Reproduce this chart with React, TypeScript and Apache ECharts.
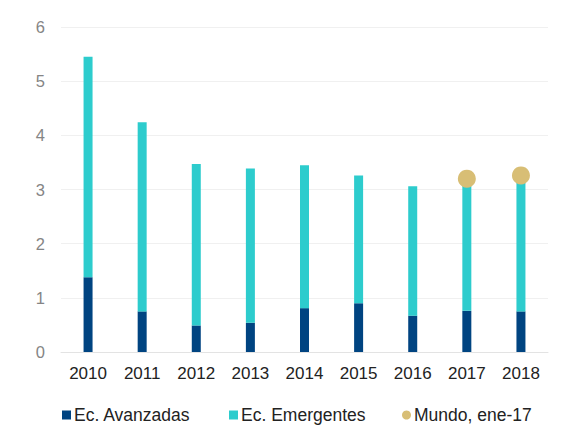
import React, { useEffect, useRef } from "react";
import * as echarts from "echarts";

const years = ["2010", "2011", "2012", "2013", "2014", "2015", "2016", "2017", "2018"];
const avanzadas = [1.38, 0.75, 0.49, 0.54, 0.81, 0.9, 0.67, 0.76, 0.75];
const emergentes = [4.07, 3.49, 2.98, 2.85, 2.64, 2.36, 2.39, 2.34, 2.38];
const mundo: (number | string)[] = ["-", "-", "-", "-", "-", "-", "-", 3.2, 3.26];
const yTicks = [0, 1, 2, 3, 4, 5, 6];
const seriesNames = ["Ec. Avanzadas", "Ec. Emergentes", "Mundo, ene-17"];

const FONT = "'Liberation Sans', Arial, sans-serif";

export default function App() {
  const ref = useRef<HTMLDivElement>(null);
  useEffect(() => {
    if (!ref.current) return;
    const chart = echarts.init(ref.current, undefined, { renderer: "svg" });
    const legendLefts = [62, 229, 402];
    const legendIcons = ["rect", "rect", "circle"];
    chart.setOption({
      animation: false,
      textStyle: { fontFamily: FONT },
      grid: { left: 61, right: 26, top: 27, bottom: 76 },
      legend: seriesNames.map((n, i) => ({
        left: legendLefts[i],
        top: 406,
        itemWidth: 9,
        itemHeight: 9,
        padding: 0,
        textStyle: { fontSize: 17.5, color: "#222", fontFamily: FONT, padding: [0, 0, 0, -2] },
        data: [{ name: n, icon: legendIcons[i] }],
      })),
      xAxis: {
        type: "category",
        data: years,
        axisLine: { lineStyle: { color: "#e3e3e3" } },
        axisTick: { show: false },
        axisLabel: { fontSize: 17, color: "#222", margin: 13, fontFamily: FONT },
      },
      yAxis: {
        type: "value",
        min: yTicks[0],
        max: yTicks[yTicks.length - 1],
        interval: 1,
        axisLine: { show: false },
        axisTick: { show: false },
        splitLine: { lineStyle: { color: "#f0f0f0" } },
        axisLabel: { fontSize: 16.5, color: "#858585", margin: 16, fontFamily: FONT },
      },
      series: [
        {
          name: seriesNames[0],
          type: "bar",
          stack: "total",
          barWidth: 9,
          data: avanzadas,
          itemStyle: { color: "#004481" },
        },
        {
          name: seriesNames[1],
          type: "bar",
          stack: "total",
          barWidth: 9,
          data: emergentes,
          itemStyle: { color: "#2DCCCD" },
        },
        {
          name: seriesNames[2],
          type: "scatter",
          symbol: "circle",
          symbolSize: 18,
          data: mundo,
          itemStyle: { color: "#D8BE75", opacity: 1 },
        },
      ],
    });
    return () => chart.dispose();
  }, []);
  return <div ref={ref} style={{ width: 574, height: 428, position: "absolute", left: 0, top: 0 }} />;
}
